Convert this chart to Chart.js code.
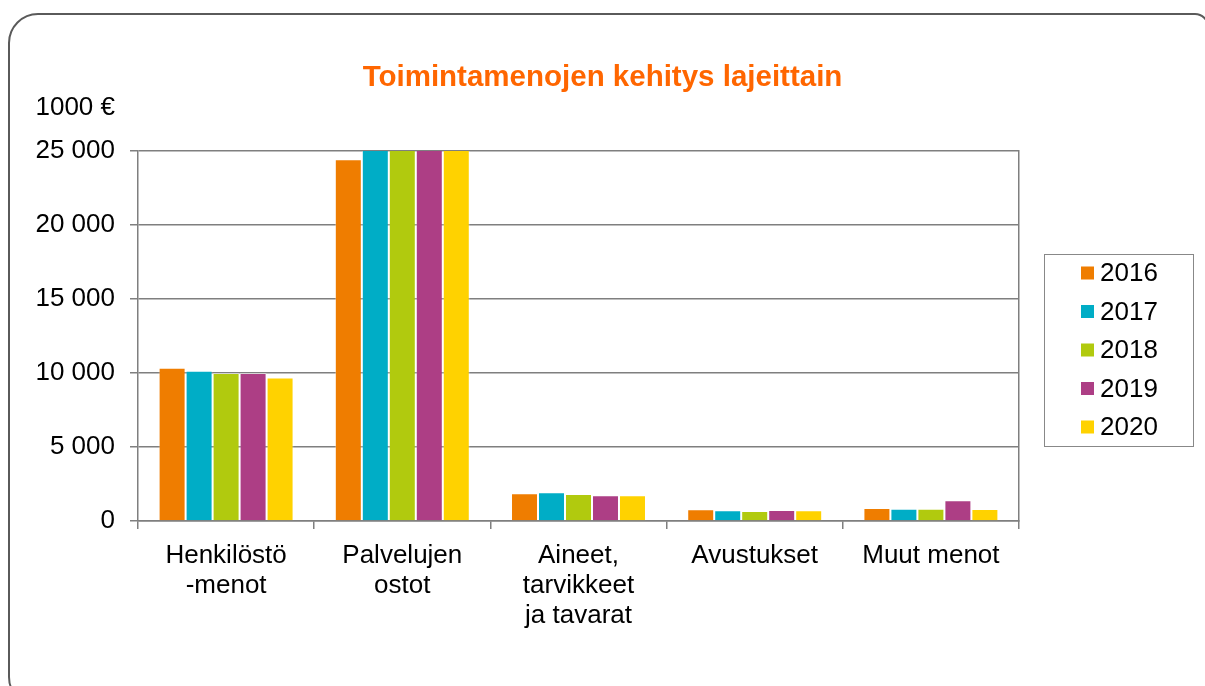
<!DOCTYPE html>
<html>
<head>
<meta charset="utf-8">
<script src="https://cdn.jsdelivr.net/npm/chart.js@4/dist/chart.umd.min.js"></script>
<style>
    body { margin: 0; background: #fff; overflow: hidden; }
    .frame {
        position: absolute; left: 8px; top: 13px; width: 1197px; height: 690px;
        border: 2px solid #5a5a5a; border-radius: 30px 14px 30px 30px;
    }
    #myChart { position: absolute; left: 0; top: 0; }
</style>
</head>
<body>
<div class="frame"></div>
<canvas id="myChart" width="1205" height="686"></canvas>
<script>
const categories = [
    ["Henkilöstö", "-menot"],
    ["Palvelujen", "ostot"],
    ["Aineet,", "tarvikkeet", "ja tavarat"],
    ["Avustukset"],
    ["Muut menot"]
];
const years = ["2016", "2017", "2018", "2019", "2020"];
const values2016 = [10350, 24450, 1870, 790, 880];
const values2017 = [10150, 25800, 1940, 720, 830];
const values2018 = [10000, 26300, 1820, 680, 830];
const values2019 = [10000, 26900, 1740, 740, 1400];
const values2020 = [9700, 27400, 1740, 720, 810];
const yTicks = [0, 5000, 10000, 15000, 20000, 25000];
const unitLabel = "1000 €";

const colors = ["#EF7D00", "#00ADC6", "#B1CA0E", "#AD3E85", "#FFD200"];
const gray = "#7f7f7f";
const font = "'Liberation Sans', Arial, sans-serif";

Chart.defaults.font.family = font;
Chart.defaults.color = "#000";

// unit text above the y axis + legend drawn in a box on the right
const extras = {
    id: "extras",
    afterDraw(chart) {
        const ctx = chart.ctx;
        ctx.save();
        ctx.font = "26px " + font;
        ctx.fillStyle = "#000";
        ctx.textAlign = "right";
        ctx.textBaseline = "middle";
        ctx.fillText(unitLabel, 115, 108);

        ctx.strokeStyle = "#888";
        ctx.lineWidth = 1;
        ctx.strokeRect(1044.5, 254.5, 149, 192);
        ctx.textAlign = "left";
        chart.data.datasets.forEach(function (ds, i) {
            const y = 273 + i * 38.5;
            ctx.fillStyle = ds.backgroundColor;
            ctx.fillRect(1081, y - 6.5, 13, 13);
            ctx.fillStyle = "#000";
            ctx.fillText(ds.label, 1100, y + 1);
        });
        ctx.restore();
    }
};

const seriesValues = [values2016, values2017, values2018, values2019, values2020];

new Chart(document.getElementById("myChart"), {
    type: "bar",
    data: {
        labels: categories,
        datasets: years.map(function (y, i) {
            return {
                label: y,
                data: seriesValues[i],
                backgroundColor: colors[i],
                borderColor: "rgba(255,255,255,0.35)",
                borderWidth: 1,
                categoryPercentage: 0.766,
                barPercentage: 1
            };
        })
    },
    options: {
        responsive: false,
        animation: false,
        layout: { padding: 0 },
        plugins: {
            legend: { display: false },
            tooltip: { enabled: false },
            title: {
                display: true,
                text: "Toimintamenojen kehitys lajeittain",
                color: "#FF6600",
                font: { size: 29.5, weight: "bold", lineHeight: 1 },
                padding: { top: 63.5, bottom: 58 }
            }
        },
        scales: {
            y: {
                min: 0,
                max: 25000,
                afterBuildTicks: function (scale) {
                    scale.ticks = yTicks.map(function (v) { return { value: v }; });
                },
                afterFit: function (scale) { scale.width = 138; },
                ticks: {
                    font: { size: 26 },
                    padding: 15,
                    callback: function (v) {
                        return String(v).replace(/\B(?=(\d{3})+(?!\d))/g, " ");
                    }
                },
                grid: { color: gray, lineWidth: 1.5, tickLength: 8, tickColor: gray },
                border: { color: gray, width: 1.5 }
            },
            yRight: {
                position: "right",
                min: 0,
                max: 25000,
                afterFit: function (scale) { scale.width = 186; },
                ticks: { display: false },
                grid: { display: false, drawTicks: false },
                border: { display: true, color: gray, width: 1.5 }
            },
            x: {
                afterFit: function (scale) { scale.height = 165; },
                ticks: { font: { size: 26, lineHeight: 1.15 }, padding: 12, maxRotation: 0, autoSkip: false },
                grid: {
                    offset: true,
                    drawOnChartArea: false,
                    lineWidth: 1.5,
                    tickLength: 8,
                    tickColor: gray
                },
                border: { color: gray, width: 1.5 }
            }
        }
    },
    plugins: [extras]
});
</script>
</body>
</html>
